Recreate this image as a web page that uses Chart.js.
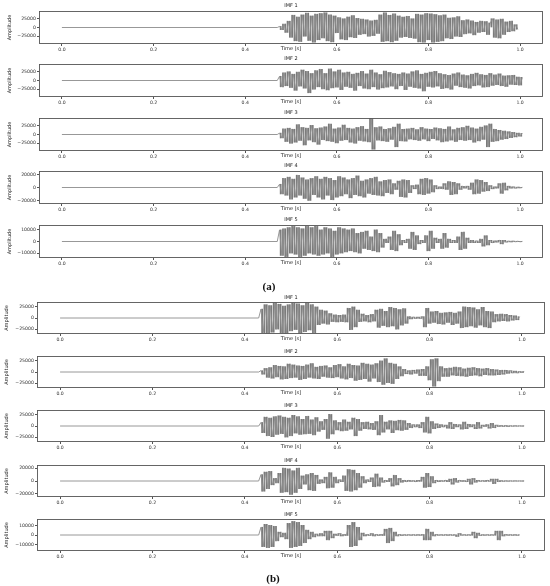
<!DOCTYPE html>
<html><head><meta charset="utf-8">
<script src="https://cdn.jsdelivr.net/npm/chart.js@4"></script>
<style>
html,body{margin:0;padding:0;background:#fff}
body{width:550px;height:586px;position:relative;overflow:hidden;font-family:'DejaVu Sans',sans-serif}
canvas{position:absolute;left:0}
.t{position:absolute;font-size:5px;color:#222;transform:translate(-50%,-50%);white-space:nowrap;line-height:1}
.p{position:absolute;font:bold 11px 'Liberation Serif',serif;color:#111;transform:translate(-50%,-50%);line-height:1}
</style></head><body>
<script>
// ---------- data (amplitudes in thousands, successive oscillation peaks) ----------
const X_TICKS = [0.0, 0.2, 0.4, 0.6, 0.8, 1.0];
const TITLES = ['IMF 1', 'IMF 2', 'IMF 3', 'IMF 4', 'IMF 5'];
const START_A = 0.47;   // onset of signal, panel (a)
const START_B = 0.43;   // onset of signal, panel (b)
const STEP = 0.005;     // time between successive peaks [s]

const A_IMF1 = [3,-6,10,-14,18,
 -28,35,-38,30,-40,36,-25,41,-37,33,-42,38,
 -35,40,-30,42,-38,36,-41,33,
 -15,
 28,-33,25,-35,30,-27,34,-29,26,
 -20,24,-18,22,-25,19,-23,21,-17,
 36,-40,42,-38,35,-41,39,-37,33,
 -28,30,-26,32,-29,25,-31,
 38,-41,36,-42,40,-35,39,-42,37,-40,34,-38,36,
 -30,27,-32,28,-25,31,-26,
 20,-18,22,-16,19,-21,15,
 -14,18,-12,17,-20,13,
 25,-28,22,-30,24,-20,
 16,-12,18,-10,8,-5];
const A_IMF2 = [12,-18,22,-15,25,-20,18,-28,24,-16,
 30,-22,26,-35,20,-25,28,-18,32,-24,
 20,-27,33,-21,25,-19,30,-26,22,-17,
 24,-20,18,-28,21,-15,26,-22,19,-24,
 30,-18,22,-25,17,-21,27,-19,23,-16,
 20,-24,18,-15,22,-26,19,-17,25,-20,
 28,-22,18,-30,21,-17,24,-19,26,-16,
 20,-23,17,-21,15,-25,19,-14,22,-18,
 16,-20,14,-22,18,-15,21,-13,17,-19,
 15,-18,20,-14,16,-12,19,-15,13,-17,
 14,-11,15,-12,10,-13,9];
const A_IMF3 = [4,-10,16,-20,18,-25,15,-22,28,-17,
 20,-30,18,-16,26,-21,17,-28,19,-15,
 22,-18,30,-20,16,-24,19,-17,27,-15,
 18,-22,16,-25,20,-17,23,-19,15,-21,
 45,-42,20,-16,22,-18,15,-20,17,-14,
 21,-35,30,-18,15,-19,16,-13,18,-15,
 14,-17,20,-13,16,-18,15,-12,19,-16,
 17,-21,15,-19,22,-16,14,-20,18,-15,
 20,-17,24,-15,19,-22,16,-18,21,-14,
 25,-35,30,-20,15,-18,12,-14,10,-12,
 8,-9,6,-7,4,-5,3];
const A_IMF4 = [5,-10,14,-12,16,-18,13,-15,19,-12,
 15,-17,12,-20,14,-11,17,-15,13,-18,
 16,-12,14,-19,11,-15,17,-13,15,-10,
 12,-16,14,-11,18,-13,10,-15,12,-9,
 14,-11,16,-12,9,-13,11,-8,12,-10,
 6,-3,10,-14,12,-15,11,-8,3,-2,
 4,-10,13,-11,14,-9,12,-7,3,-2,
 1,-2,6,-3,9,-11,8,-10,6,-3,
 2,-1,2,-3,7,-10,12,-9,11,-6,
 8,-5,3,-2,1,-1,6,-9,7,-4,
 2,-1,1,-1,0.5,-0.5,0.3];
const A_IMF5 = [10,-12,11,-13,12,-10,13,-11,12,-13,
 11,-12,13,-10,12,-11,13,-12,10,-11,
 12,-10,11,-13,9,-11,12,-10,11,-9,
 10,-8,11,-9,7,-10,8,-6,9,-7,
 4,-8,10,-9,7,-5,2,-1,4,-7,
 9,-8,6,-3,1,-1,2,-6,8,-7,
 5,-2,1,-1,5,-8,9,-6,3,-1,
 2,-6,7,-5,2,-1,1,-1,4,-7,
 8,-6,3,-1,1,-1,0.5,-1,2,-4,
 5,-3,1,-1,0.5,-0.5,1,-2,1,-0.5,
 0.3,-0.3,0.3,-0.2,0.2,-0.2,0.1];

const B_IMF1 = [20,-33,30,-34,28,-32,34,-25,31,-33,27,-34,30,-29,33,-26,32,-34,28,-31,34,-27,30,-33,25,
 -15,18,-12,16,-14,10,
 -8,7,-9,6,-8,7,-9,
 22,-26,25,-20,18,
 -8,9,-7,6,-9,8,-7,
 18,-21,20,-17,15,
 -20,24,-18,22,-25,19,-16,21,-12,
 3,-2,2,-1,2,-1,3,
 -20,22,
 -12,14,-10,15,-13,11,-14,12,-10,13,-15,11,-12,14,
 -22,25,-20,24,-18,23,-21,19,
 -16,24,-20,15,-22,14,
 -9,8,-7,9,-6,8,-7,6,-5,5,-4,3];
const B_IMF2 = [3,-5,8,-12,10,-14,15,-11,13,-16,
 12,-15,18,-13,16,-12,14,-17,13,-15,
 16,-12,19,-14,11,-15,13,-10,14,-12,
 10,-13,15,-11,17,-14,12,-16,18,-13,
 15,-19,14,-17,20,-15,18,-21,16,-14,
 19,-22,25,-28,30,-24,20,-26,18,-15,
 12,-9,6,-4,3,-5,4,-3,5,-8,
 6,-8,12,-18,28,-32,30,-20,12,-10,
 8,-10,9,-7,11,-8,10,-9,7,-10,
 9,-8,10,-7,8,-9,7,-6,8,-7,
 6,-7,5,-6,4,-5,4,-3,3,-2,
 2,-2,1,-1,1];
const B_IMF3 = [8,-15,20,-22,18,-24,21,-19,23,-17,
 20,-25,18,-22,24,-16,21,-19,15,-18,
 22,-17,14,-20,19,-12,10,-8,15,-28,
 26,-18,12,-9,8,-11,14,-10,9,-7,
 18,-22,15,-10,8,-6,9,-7,6,-8,
 10,-20,24,-14,9,-7,12,-15,11,-9,
 13,-10,12,-8,6,-4,3,-2,3,-4,
 8,-14,20,-16,10,-6,5,-4,3,-2,
 2,-5,8,-6,4,-2,3,-7,9,-6,
 4,-2,3,-6,8,-5,2,-1,3,-5,
 6,-4,2,-1,1,-1,1,-1,0.5,-0.5,
 0.5,-0.3,0.3,-0.2,0.2];
const B_IMF4 = [10,-16,14,-12,15,-6,4,-3,12,-18,
 20,-17,19,-21,16,-18,20,-12,8,-5,
 10,-14,12,-15,9,-4,2,-3,6,-11,
 13,-10,6,-3,2,-1,8,-15,18,-16,
 17,-14,12,-10,7,-3,2,-1,5,-9,
 11,-8,5,-2,1,-1,4,-8,9,-6,
 4,-2,1,-1,1,-0.5,0.5,-1,1,-0.5,
 6,-10,12,-9,7,-3,1,-1,0.5,-0.5,
 1,-1,3,-5,4,-2,1,-0.5,0.5,-1,
 3,-5,4,-2,1,-0.5,0.5,-0.5,1,-0.5,
 3,-4,3,-1,0.5,-0.5,0.3,-0.3,0.2,-0.2,
 0.2,-0.1,0.1,-0.1,0.1];
const B_IMF5 = [8,-12,11,-13,10,-12,9,-6,
 3,-2,2,-4,
 12,-13,14,-12,13,-11,10,-8,
 5,-4,3,-2,
 1,-1,1.5,-1,
 4,-5,4,-3,
 1,-0.5,1.5,-1,0.5,-0.5,
 10,-12,13,-11,8,-5,
 2,-1,0.5,-0.5,1.5,-1,0.5,-0.5,0.5,-0.5,
 6,-8,7,-6,3,
 -1,0.5,-0.5,0.3,-0.3,0.3,-0.3,0.3,-0.3,0.3,-0.3,0.5,
 -5,6,-5,3,
 -1,0.5,-0.3,0.3,-0.3,0.3,-0.3,0.3,-0.3,0.3,
 -1.5,1.5,
 -0.3,0.3,-0.3,0.3,-0.3,
 3,-3,2,
 -0.5,0.3,-0.3,0.3,-0.3,0.3,-0.3,
 4,-5,4,
 -1,0.5,-0.3,0.3,-0.3,0.3,-0.3,0.2];

const Y_TICKS_25K = [-25000, 0, 25000];
const Y_TICKS_20K = [-20000, 0, 20000];
const Y_TICKS_10K = [-10000, 0, 10000];

// ---------- layout ----------
const PANEL_A = {start: START_A, left: 39, right: 543, tops: [11, 64, 118, 171, 225], h: 33, titleDy: 6, ylabX: 10,
  series: [A_IMF1, A_IMF2, A_IMF3, A_IMF4, A_IMF5],
  ylim: [47000, 47000, 47000, 25500, 14200],
  yticks: [Y_TICKS_25K, Y_TICKS_25K, Y_TICKS_25K, Y_TICKS_20K, Y_TICKS_10K]};
const PANEL_B = {start: START_B, left: 37, right: 545, tops: [302, 356, 410, 465, 519], h: 32, titleDy: 5, ylabX: 7,
  series: [B_IMF1, B_IMF2, B_IMF3, B_IMF4, B_IMF5],
  ylim: [36000, 36000, 36000, 25000, 16500],
  yticks: [Y_TICKS_25K, Y_TICKS_25K, Y_TICKS_25K, Y_TICKS_20K, Y_TICKS_10K]};

Chart.defaults.font.family = "'DejaVu Sans', sans-serif";
Chart.defaults.color = '#222';

const boxPlugin = {
  id: 'box',
  afterDraw(chart) {
    const a = chart.chartArea, c = chart.ctx;
    c.save();
    c.strokeStyle = '#555';
    c.lineWidth = 0.9;
    c.strokeRect(Math.round(a.left) + 0.5, Math.round(a.top) + 0.5, Math.round(a.right - a.left) - 1, Math.round(a.bottom - a.top) - 1);
    c.restore();
  }
};

function fmtY(v) { return v < 0 ? '\u2212' + Math.abs(v) : String(v); }

const PAD_TOP = 4, XH = 8;
function makePlot(P, k) {
  const top = P.tops[k];
  const cv = document.createElement('canvas');
  const H = PAD_TOP + P.h + XH;
  cv.width = 550; cv.height = H;
  cv.style.top = (top - PAD_TOP) + 'px';
  cv.style.width = '550px'; cv.style.height = H + 'px';
  document.body.appendChild(cv);

  const vals = P.series[k];
  // zig-zag trace through successive peaks, plus a thin vertical stroke per peak-to-peak swing
  const line = [{x: 0, y: 0}, {x: P.start, y: 0}];
  vals.forEach((v, i) => line.push({x: P.start + (i + 1) * STEP, y: v * 1000}));
  const bars = [];
  for (let i = 0; i < vals.length - 1; i++) {
    const a = vals[i] * 1000, b = vals[i + 1] * 1000;
    bars.push({x: P.start + (i + 1.5) * STEP, y: [Math.min(a, b, 0), Math.max(a, b, 0)]});
  }

  const yt = P.yticks[k];
  new Chart(cv, {
    type: 'bar',
    data: {datasets: [
      {type: 'line', data: line, borderColor: '#8c8c8c', borderWidth: 0.9, pointRadius: 0, tension: 0, fill: false},
      {type: 'bar', data: bars, backgroundColor: '#7a7a7a', borderWidth: 0, barThickness: 1.1, grouped: false}
    ]},
    options: {
      responsive: false, animation: false, devicePixelRatio: 1,
      layout: {padding: {top: PAD_TOP, left: 0, right: 550 - P.right, bottom: 0}},
      plugins: {legend: {display: false}, tooltip: {enabled: false}, title: {display: false}},
      scales: {
        x: {
          type: 'linear', min: -0.05, max: 1.05, offset: false,
          afterBuildTicks: s => { s.ticks = X_TICKS.map(v => ({value: v})); },
          afterFit: s => { s.height = XH; },
          ticks: {font: {size: 4.6}, color: '#333', padding: 1.2, maxRotation: 0, autoSkip: false, callback: v => Number(v).toFixed(1)},
          grid: {display: true, drawOnChartArea: false, drawTicks: true, tickLength: 2, color: '#555', offset: false},
          border: {display: false},
          title: {display: true, text: 'Time [s]', font: {size: 5}, color: '#222', padding: {top: 0, bottom: 0}}
        },
        y: {
          min: -P.ylim[k], max: P.ylim[k],
          afterBuildTicks: s => { s.ticks = yt.map(v => ({value: v})); },
          afterFit: s => { s.width = P.left; },
          ticks: {font: {size: 4.6}, color: '#333', padding: 1.2, autoSkip: false, callback: v => fmtY(v)},
          grid: {display: true, drawOnChartArea: false, drawTicks: true, tickLength: 2, color: '#555'},
          border: {display: false},
          title: {display: true, text: 'Amplitude', font: {size: 5}, color: '#222', padding: {top: P.ylabX - 3, bottom: 0}}
        }
      }
    },
    plugins: [boxPlugin]
  });

  const t = document.createElement('div');
  t.className = 't';
  t.textContent = TITLES[k];
  t.style.left = ((P.left + P.right) / 2) + 'px';
  t.style.top = (top - P.titleDy) + 'px';
  document.body.appendChild(t);
}

for (let k = 0; k < 5; k++) makePlot(PANEL_A, k);
for (let k = 0; k < 5; k++) makePlot(PANEL_B, k);

function label(txt, x, y) {
  const d = document.createElement('div');
  d.className = 'p'; d.textContent = txt;
  d.style.left = x + 'px'; d.style.top = y + 'px';
  document.body.appendChild(d);
}
label('(a)', 269, 286);
label('(b)', 273, 578);
</script>
</body></html>
